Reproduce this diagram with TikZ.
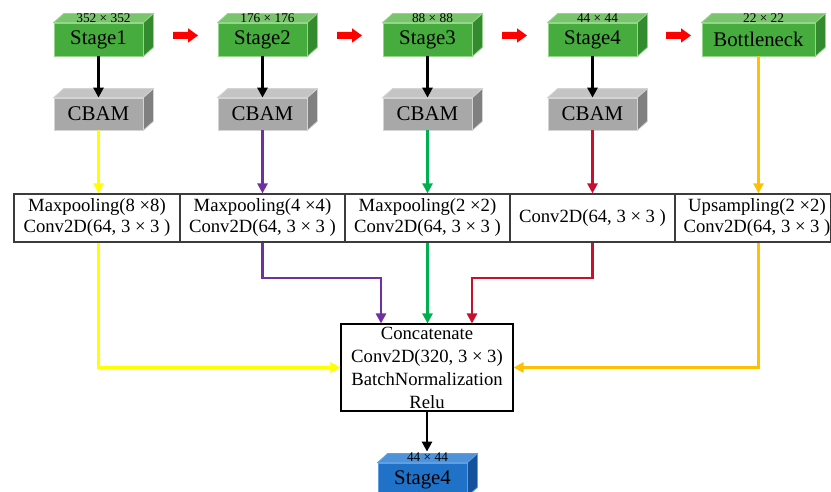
\documentclass[tikz,border=0pt]{standalone}
\usepackage{fontspec}
\setmainfont{Liberation Serif}
\usetikzlibrary{arrows.meta}
\definecolor{gfront}{RGB}{70,172,62}
\definecolor{gtop}{RGB}{122,196,110}
\definecolor{gside}{RGB}{52,138,46}
\definecolor{gedge}{RGB}{150,214,140}
\definecolor{cfront}{RGB}{168,168,168}
\definecolor{ctop}{RGB}{196,196,196}
\definecolor{cside}{RGB}{128,128,128}
\definecolor{cedge}{RGB}{212,212,212}
\definecolor{bfront}{RGB}{31,114,200}
\definecolor{btop}{RGB}{78,146,218}
\definecolor{bside}{RGB}{20,82,156}
\definecolor{bedge}{RGB}{96,160,226}
\definecolor{cyel}{RGB}{255,255,0}
\definecolor{cpur}{RGB}{112,48,160}
\definecolor{cgrn}{RGB}{0,176,80}
\definecolor{cred}{RGB}{200,16,46}
\definecolor{corg}{RGB}{255,192,0}
\definecolor{cbord}{RGB}{60,60,60}
\newcommand\mycube[4]{%
  \filldraw[fill=#2,draw=#4,line width=0.6pt] (#1.north west) -- ([shift={(10,-9)}]#1.north west) -- ([shift={(10,-9)}]#1.north east) -- (#1.north east) -- cycle;
  \filldraw[fill=#3,draw=#4,line width=0.6pt] (#1.north east) -- ([shift={(10,-9)}]#1.north east) -- ([shift={(10,-9)}]#1.south east) -- (#1.south east) -- cycle;}
\newcommand\redblock[1]{%
  \fill[red] (#1,32) -- ++(15,0) -- ++(0,-3.7) -- ++(10,7.2) -- ++(-10,7.2) -- ++(0,-3.7) -- ++(-15,0) -- cycle;}
\tikzset{
  front/.style={draw=#1,line width=0.6pt,minimum height=24.75pt,inner sep=0pt},
  stagebox/.style={front=gedge,fill=gfront,minimum width=66.75pt,font=\fontsize{15.6}{18}\selectfont},
  cbambox/.style={front=cedge,fill=cfront,minimum width=66.75pt,minimum height=24pt,font=\fontsize{15.7}{18}\selectfont},
  sizelab/.style={font=\fontsize{10}{11}\selectfont,inner sep=0pt},
  cell/.style={draw=cbord,line width=0.9pt,minimum height=36pt,align=center,inner sep=0pt,
    font=\fontsize{14}{15.75}\selectfont},
  arr/.style={line width=2.2pt,-{Triangle[length=7.5pt,width=7.5pt]}},
}
\begin{document}
\begin{tikzpicture}[x=0.75pt,y=-0.75pt]
\useasboundingbox (0,0) rectangle (831,492);
% stages
\node[stagebox] (s1) at (98.5,39.5) {Stage1};
\node[stagebox] (s2) at (262.5,39.5) {Stage2};
\node[stagebox] (s3) at (427.5,39.5) {Stage3};
\node[stagebox] (s4) at (592.5,39.5) {Stage4};
\node[stagebox,minimum width=84.75pt] (bn) at (758.5,39.5) {Bottleneck};
\foreach \n in {s1,s2,s3,s4,bn}{\mycube{\n}{gtop}{gside}{gedge}}
\node[sizelab] (l1) at (103.5,18.5) {352 × 352};
\node[sizelab] (l2) at (267.5,18.5) {176 × 176};
\node[sizelab] (l3) at (432.5,18.5) {88 × 88};
\node[sizelab] (l4) at (597.5,18.5) {44 × 44};
\node[sizelab] (l5) at (763.5,18.5) {22 × 22};
% red block arrows
\redblock{173}\redblock{337}\redblock{502}\redblock{666}
% CBAM
\node[cbambox] (c1) at (98.5,114) {CBAM};
\node[cbambox] (c2) at (262.5,114) {CBAM};
\node[cbambox] (c3) at (427.5,114) {CBAM};
\node[cbambox] (c4) at (592.5,114) {CBAM};
\foreach \n in {c1,c2,c3,c4}{\mycube{\n}{ctop}{cside}{cedge}}
% black arrows stage -> cbam
\foreach \i in {1,2,3,4}{\draw[arr,black] (s\i.south) -- (c\i.north);}
% module cells
\node[cell,minimum width=124.5pt] (m1) at (97,218) {Maxpooling(8 ×8)\\Conv2D(64, 3 × 3 )};
\node[cell,minimum width=123.75pt] (m2) at (262.5,218) {Maxpooling(4 ×4)\\Conv2D(64, 3 × 3 )};
\node[cell,minimum width=123.75pt] (m3) at (427.5,218) {Maxpooling(2 ×2)\\Conv2D(64, 3 × 3 )};
\node[cell,minimum width=123.75pt] (m4) at (592.5,218) {Conv2D(64, 3 × 3 )};
\node[cell,minimum width=116.25pt] (m5) at (752.5,218) {\hspace*{6.75pt}Upsampling(2 ×2)\\\hspace*{6.75pt}Conv2D(64, 3 × 3 )};
% concat
\node[draw=black,line width=0.8pt,minimum width=129pt,minimum height=65.25pt,align=center,inner sep=0pt,
  font=\fontsize{14}{17.25}\selectfont] (cc) at (427,367.5) {Concatenate\\Conv2D(320, 3 × 3)\\BatchNormalization\\Relu};
% output
\node[front=bedge,fill=bfront,minimum width=66.75pt,font=\fontsize{15.6}{18}\selectfont] (out) at (422.5,479.5) {Stage4};
\mycube{out}{btop}{bside}{bedge}
\node[sizelab] (l6) at (427.5,457) {44 × 44};
% coloured connectors: cbam -> cells
\draw[arr,cyel] (c1.south) -- (c1.south |- m1.north);
\draw[arr,cpur] (c2.south) -- (c2.south |- m2.north);
\draw[arr,cgrn] (c3.south) -- (c3.south |- m3.north);
\draw[arr,cred] (c4.south) -- (c4.south |- m4.north);
\draw[arr,corg] (bn.south) -- (bn.south |- m5.north);
% cells -> concat
\coordinate (pj) at (262.5,278);
\coordinate (rj) at (592.5,278);
\draw[arr,cyel] (c1.south |- m1.south) |- (cc.west);
\draw[arr,cpur] (m2.south) -- (pj) -| ([xshift=-34.5pt]cc.north);
\draw[arr,cgrn] (m3.south) -- (m3.south |- cc.north);
\draw[arr,cred] (m4.south) -- (rj) -| ([xshift=33.75pt]cc.north);
\draw[arr,corg] (bn.south |- m5.south) |- (cc.east);
% concat -> output
\draw[arr,black] (cc.south) -- ([yshift=8.25pt]cc.south |- out.north);
\end{tikzpicture}
\end{document}
